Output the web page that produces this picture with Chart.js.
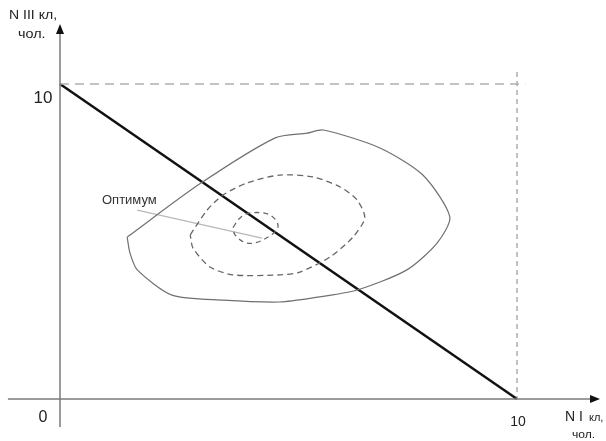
<!DOCTYPE html>
<html><head><meta charset="utf-8">
<script src="https://cdn.jsdelivr.net/npm/chart.js@4.4.1/dist/chart.umd.min.js"></script>
<style>html,body{margin:0;padding:0;background:#fff}#wrap{width:606px;height:441px}</style>
</head><body><div id="wrap"><canvas id="c" width="606" height="441"></canvas></div>
<script>
// Data (units: N I кл along x, N III кл along y)
const outerCurve = [[1.47,5.14],[3.06,6.83],[4.71,8.29],[5.41,8.44],[5.76,8.54],[7.00,7.97],[7.94,7.11],[8.53,5.78],[8.25,4.95],[7.59,4.10],[6.50,3.46],[5.54,3.21],[4.81,3.08],[3.57,3.14],[2.45,3.30],[1.69,4.10],[1.53,4.64],[1.47,5.14]];
const middleCurve = [[2.85,5.21],[3.22,6.00],[3.57,6.48],[4.09,6.86],[4.81,7.11],[5.54,7.05],[6.13,6.73],[6.50,6.32],[6.67,5.75],[6.41,5.14],[5.91,4.51],[5.25,4.03],[4.81,3.94],[3.79,3.94],[3.28,4.19],[2.91,4.79],[2.85,5.21]];
const innerCurve = [[3.79,5.46],[3.94,5.75],[4.16,5.91],[4.60,5.84],[4.77,5.46],[4.44,5.05],[4.09,4.95],[3.83,5.21],[3.79,5.46]];
const budgetLine = [[0,10],[10,0]];
const limitH = [[0,10],[10.18,10]];
const limitV = [[10,10.38],[10,0]];
const optimumPointer = [[1.69,6.0],[4.42,5.11]];
const xAxisLine = [[-1.14,0],[11.75,0]];
const yAxisLine = [[0,-0.89],[0,11.81]];
const tickLabels = ['0','10'];
const tickValues = [0,10];
const optimumLabel = 'Оптимум';
const yTitle = ['N III кл,','чол.'];
const xTitle = ['N I','кл,','чол.'];

const pts = a => a.map(p => ({x:p[0], y:p[1]}));
function ds(data, color, width, dash, tension){
  return {data: pts(data), showLine:true, borderColor:color, borderWidth:width, borderDash:dash||[], pointRadius:0, tension:tension||0, fill:false};
}
function stretched(ctx, text, x, y, sx){
  ctx.save(); ctx.translate(x, y); ctx.scale(sx, 1); ctx.fillText(text, 0, 0); ctx.restore();
}

const overlay = {
  id:'overlay',
  afterDatasetsDraw(chart){
    const ctx = chart.ctx, xs = chart.scales.x, ys = chart.scales.y;
    const X = v => xs.getPixelForValue(v), Y = v => ys.getPixelForValue(v);
    ctx.save();
    ctx.fillStyle = '#111';
    // arrows
    const ax = X(xAxisLine[1][0]), ay = Y(0);
    ctx.beginPath(); ctx.moveTo(ax+3, ay); ctx.lineTo(ax-7, ay-4); ctx.lineTo(ax-7, ay+4); ctx.closePath(); ctx.fill();
    const bx = X(0), by = Y(yAxisLine[1][1]);
    ctx.beginPath(); ctx.moveTo(bx, by-3); ctx.lineTo(bx-4, by+7); ctx.lineTo(bx+4, by+7); ctx.closePath(); ctx.fill();
    // tick labels
    ctx.fillStyle = '#222';
    ctx.textAlign = 'center'; ctx.textBaseline = 'middle';
    ctx.font = '16px "Liberation Sans", Arial, sans-serif';
    ctx.fillText(tickLabels[0], X(0)-17, Y(0)+19);
    ctx.font = '17px "Liberation Sans", Arial, sans-serif';
    ctx.fillText(tickLabels[1], X(0)-17, Y(tickValues[1])+14);
    ctx.font = '14px "Liberation Sans", Arial, sans-serif';
    ctx.fillText(tickLabels[1], X(tickValues[1])+1, Y(0)+23);
    // y title
    ctx.textAlign = 'left';
    ctx.font = '13px "Liberation Sans", Arial, sans-serif';
    stretched(ctx, yTitle[0], 9, 15, 1.08);
    ctx.font = '12px "Liberation Sans", Arial, sans-serif';
    stretched(ctx, yTitle[1], 18, 35, 1.2);
    // x title
    ctx.font = '14px "Liberation Sans", Arial, sans-serif';
    ctx.fillText(xTitle[0], 565, 417);
    ctx.font = '11px "Liberation Sans", Arial, sans-serif';
    ctx.fillText(xTitle[1], 589, 418);
    stretched(ctx, xTitle[2], 572, 435, 1.1);
    // optimum label
    ctx.fillStyle = '#333';
    ctx.font = '13px "Liberation Sans", Arial, sans-serif';
    ctx.fillText(optimumLabel, 102, 200);
    ctx.restore();
  }
};

new Chart(document.getElementById('c'), {
  type:'scatter',
  data:{datasets:[
    ds(xAxisLine,'#7a7a7a',1.5),
    ds(yAxisLine,'#7a7a7a',1.5),
    ds(limitH,'#b0b0b0',1.5,[9,6]),
    ds(limitV,'#999',1.2,[5,4]),
    ds(outerCurve,'#707070',1.2,[],0.25),
    ds(middleCurve,'#666',1.3,[6,4],0.25),
    ds(innerCurve,'#666',1.3,[5,4],0.35),
    ds(optimumPointer,'#b8b8b8',1.3),
    ds(budgetLine,'#111',2.5)
  ]},
  options:{
    responsive:false, animation:false,
    layout:{padding:0},
    plugins:{legend:{display:false}, tooltip:{enabled:false}},
    scales:{
      x:{type:'linear', min:-1.313, max:11.947, display:false},
      y:{type:'linear', min:-1.333, max:12.667, display:false}
    }
  },
  plugins:[overlay]
});
</script></body></html>
